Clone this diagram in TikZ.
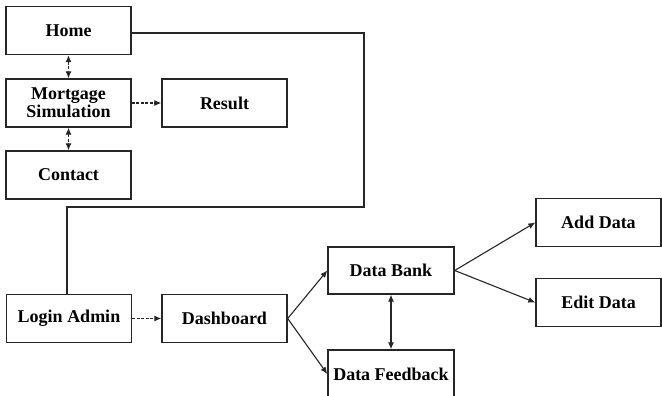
\documentclass[tikz,border=0pt]{standalone}
\usepackage{fontspec}
\setmainfont{Liberation Serif}
\usetikzlibrary{arrows.meta}
\begin{document}
\begin{tikzpicture}[x=1pt,y=-1pt,
  box/.style={draw=black!85, line width=1.4pt, minimum width=125pt, minimum height=48pt, inner sep=1pt, align=center, font=\fontsize{18}{18}\selectfont\bfseries},
  conn/.style={line width=1.3pt, draw=black!85},
  arr/.style={line width=1.1pt, draw=black!85, -{Latex[length=7pt,width=6pt]}},
  darr/.style={line width=1.1pt, draw=black!85, dash pattern=on 3pt off 1.5pt, {Latex[length=7pt,width=6pt]}-{Latex[length=7pt,width=6pt]}},
  dsarr/.style={line width=1.1pt, draw=black!85, dash pattern=on 3pt off 1.5pt, -{Latex[length=7pt,width=6pt]}}]
\useasboundingbox (0,0) rectangle (662,396);
\begin{scope}
\clip (0,0) rectangle (662,396);
\node[box] (home) at (68.5,30.5) {Home};
\node[box] (mort) at (68.5,103) {Mortgage\\Simulation};
\node[box] (result) at (224.5,103) {Result};
\node[box] (contact) at (68.5,175) {Contact};
\node[box] (login) at (69,318.5) {Login Admin};
\node[box] (dash) at (224.5,318.5) {Dashboard};
\node[box, minimum width=126pt, minimum height=47pt] (bank) at (391,270.5) {Data Bank};
\node[box, minimum width=126pt, minimum height=48pt] (feed) at (391,374) {Data Feedback};
\node[box] (add) at (598.5,222.5) {Add Data};
\node[box] (edit) at (598.5,302.5) {Edit Data};
\end{scope}
\coordinate (c1) at (364,33);
\coordinate (c2) at (364,207);
\coordinate (c3) at (67,207);
\draw[conn] (home.east |- c1) -- (c1) -- (c2) -- (c3) -- (c3 |- login.north);
\draw[darr] (home.south) -- (mort.north);
\draw[darr] (mort.south) -- (contact.north);
\draw[dsarr] (mort.east) -- (result.west);
\draw[dsarr] (login.east) -- (dash.west);
\draw[arr] (dash.east) -- (bank.west);
\draw[arr] (dash.east) -- (feed.west);
\draw[arr] (bank.east) -- (add.west);
\draw[arr] (bank.east) -- (edit.west);
\draw[line width=1.1pt, draw=black!85, {Latex[length=7pt,width=6pt]}-{Latex[length=7pt,width=6pt]}] (bank.south) -- (feed.north);
\end{tikzpicture}
\end{document}
